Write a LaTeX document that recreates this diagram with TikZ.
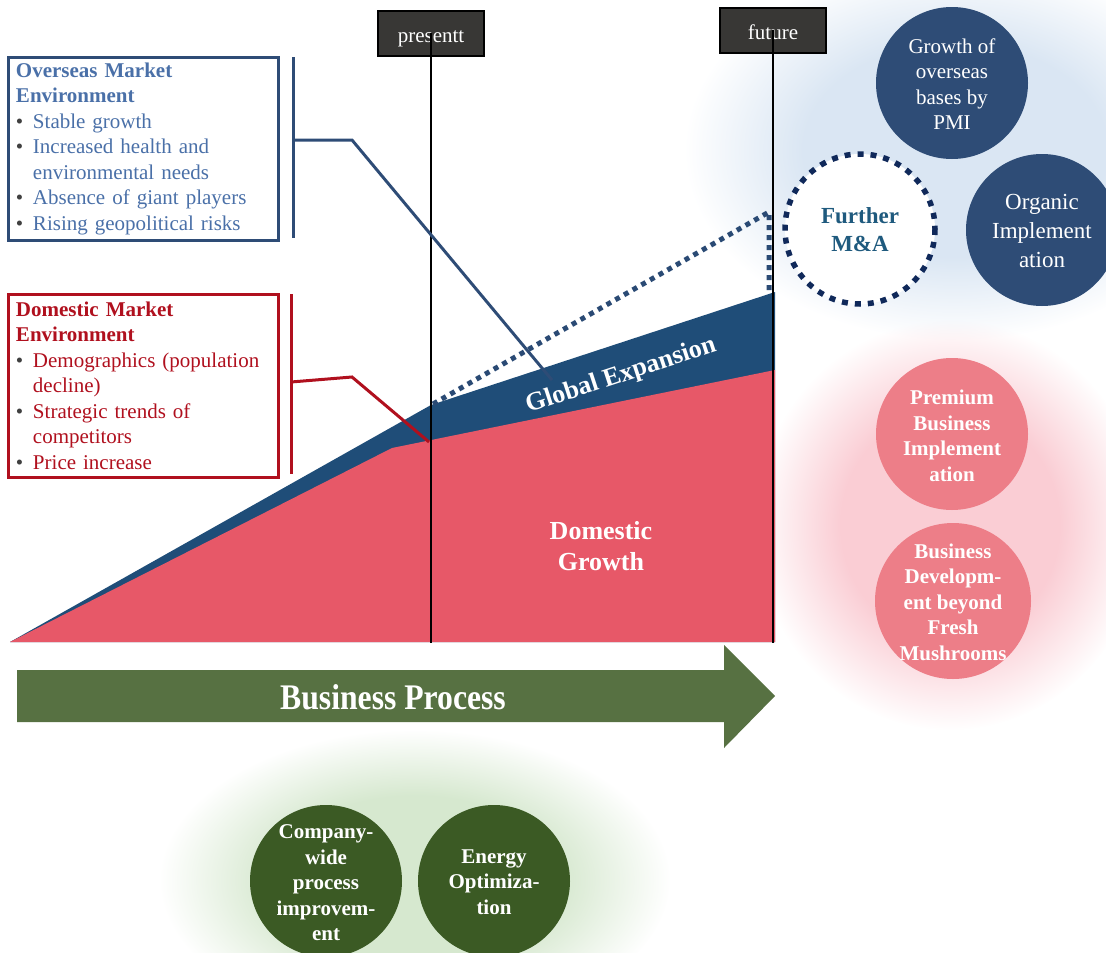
\documentclass[tikz,border=0pt]{standalone}
\usepackage{fontspec}
\setmainfont{Liberation Serif}
\usetikzlibrary{fadings}

\definecolor{navy}{HTML}{2E4C76}
\definecolor{ovblue}{HTML}{4A70A8}
\definecolor{dmred}{HTML}{B0101E}
\definecolor{bandblue}{HTML}{1F4D78}
\definecolor{domred}{HTML}{E75868}
\definecolor{pinkdisc}{HTML}{ED7E88}
\definecolor{procgreen}{HTML}{577142}
\definecolor{leafgreen}{HTML}{3B5A24}
\definecolor{tagfill}{HTML}{383735}
\definecolor{dotnavy}{HTML}{10295A}
\definecolor{mateal}{HTML}{1F5A7E}
\definecolor{dotline}{HTML}{2A4A74}
\definecolor{glowblue}{HTML}{DAE6F3}
\definecolor{glowpink}{HTML}{FACDD4}
\definecolor{glowgreen}{HTML}{D6E8CF}

% soft halo: opaque core, fading out towards the rim
\pgfdeclareradialshading{glowshade}{\pgfpointorigin}{color(0bp)=(white); color(14bp)=(white); color(25bp)=(black); color(50bp)=(black)}
\pgfdeclarefading{glow}{\pgfuseshading{glowshade}}

\newcommand{\bul}{\makebox[17pt][l]{\textcolor{black!75}{\textbullet}}}
\newcommand{\wrapind}{\hspace*{17pt}}

\begin{document}
\begin{tikzpicture}[x=1pt,y=-1pt,
  every node/.style={font=\fontsize{21}{25.5}\selectfont},
  envbox/.style={draw,line width=3pt,anchor=north west,outer sep=0pt,
    minimum width=270pt,minimum height=183pt,text width=254pt,
    inner xsep=8pt,align=left},
  tag/.style={draw=black,line width=2pt,fill=tagfill,text=white,
    minimum width=106pt,minimum height=45pt,inner sep=0pt,
    text height=18pt,text depth=0pt},
  disctext/.style={align=center,text=white},
  heavy/.style={font=\bfseries\fontsize{21}{25.5}\selectfont},
  big/.style={text=white,font=\bfseries\fontsize{26}{31}\selectfont}]
\useasboundingbox (0,0) rectangle (1106,953);
\coordinate (base) at (0,643);

% halos behind the circles
\fill[glowblue,path fading=glow] (955,150) ellipse (270 and 190);
\fill[glowpink,path fading=glow] (950,525) ellipse (195 and 205);
\fill[glowgreen,path fading=glow] (415,880) ellipse (255 and 150);

% market environment
\node[envbox,draw=navy,text=ovblue] (overseas) at (8,57) {%
  {\bfseries Overseas Market\\Environment}\\
  \bul Stable growth\\
  \bul Increased health and\\
  \wrapind environmental needs\\
  \bul Absence of giant players\\
  \bul Rising geopolitical risks};
\node[envbox,draw=dmred,text=dmred] (domestic) at (8,294) {%
  {\bfseries Domestic Market\\Environment}\\
  \bul Demographics (population\\
  \wrapind decline)\\
  \bul Strategic trends of\\
  \wrapind competitors\\
  \bul Price increase};
\draw[navy,line width=3pt] (293,57) -- (293,238);
\draw[dmred,line width=3pt] (291,294) -- (291,474);

% sales areas
\fill[bandblue] (10,642) -- (431,405) -- (775,292) -- (775,642) -- cycle;
\fill[domred] (10,642) -- (392,448) -- (775,370) -- (775,642) -- cycle;
\draw[dotline,line width=5pt,dash pattern=on 5pt off 5pt]
  (433,404) -- (769,212) -- (769,292);

% time markers
\node[tag] (present) at (431,33) {presentt};
\node[tag] (future) at (773,30) {future};
\draw[line width=1.2pt] (present.center) -- (present.center |- base);
\draw[line width=1.2pt] (future.center) -- (future.center |- base);

% links from the environment boxes
\coordinate (ovmid) at (293,140);
\coordinate (dmmid) at (291,382);
\draw[navy,line width=3pt] (ovmid) -- (352,140) -- (552,380);
\draw[dmred,line width=3pt] (dmmid) -- (352,377) -- (429,442);

\node[big,rotate=18.2] (global) at (621,376) {Global Expansion};
\node[big,align=center] (domgrowth) at (601,546) {Domestic\\Growth};

% process arrow
\fill[procgreen] (17,670) -- (724,670) -- (724,645) -- (775,696)
  -- (724,748) -- (724,722) -- (17,722) -- cycle;
\node[text=white,font=\bfseries\fontsize{36}{36}\selectfont] (process)
  at (393,697) {\scalebox{0.88}[1]{Business Process}};

% overseas growth
\fill[navy] (952,83) circle (76);
\node[disctext] (pmi) at (952,84) {Growth of\\overseas\\bases by\\PMI};
\fill[navy] (1042,230) circle (76);
\node[disctext,font=\fontsize{23}{29}\selectfont] (organic) at (1042,231)
  {Organic\\Implement\\ation};
\draw[dotnavy,fill=white,line width=5.5pt,dash pattern=on 6pt off 7pt]
  (860,229) circle (75);
\node[align=center,text=mateal,font=\bfseries\fontsize{23}{28}\selectfont]
  (ma) at (860,230) {Further\\M\&A};

% domestic growth
\fill[pinkdisc] (952,434) circle (76);
\node[disctext,heavy] (premium) at (952,436)
  {Premium\\Business\\Implement\\ation};
\fill[pinkdisc] (953,601) circle (78);
\node[disctext,heavy] (beyond) at (953,602)
  {Business\\Developm-\\ent beyond\\Fresh\\Mushrooms};

% process improvement
\fill[leafgreen] (326,881) circle (76);
\node[disctext,heavy] (kaizen) at (326,883)
  {Company-\\wide\\process\\improvem-\\ent};
\fill[leafgreen] (494,881) circle (76);
\node[disctext,heavy] (energy) at (494,882) {Energy\\Optimiza-\\tion};
\end{tikzpicture}
\end{document}
